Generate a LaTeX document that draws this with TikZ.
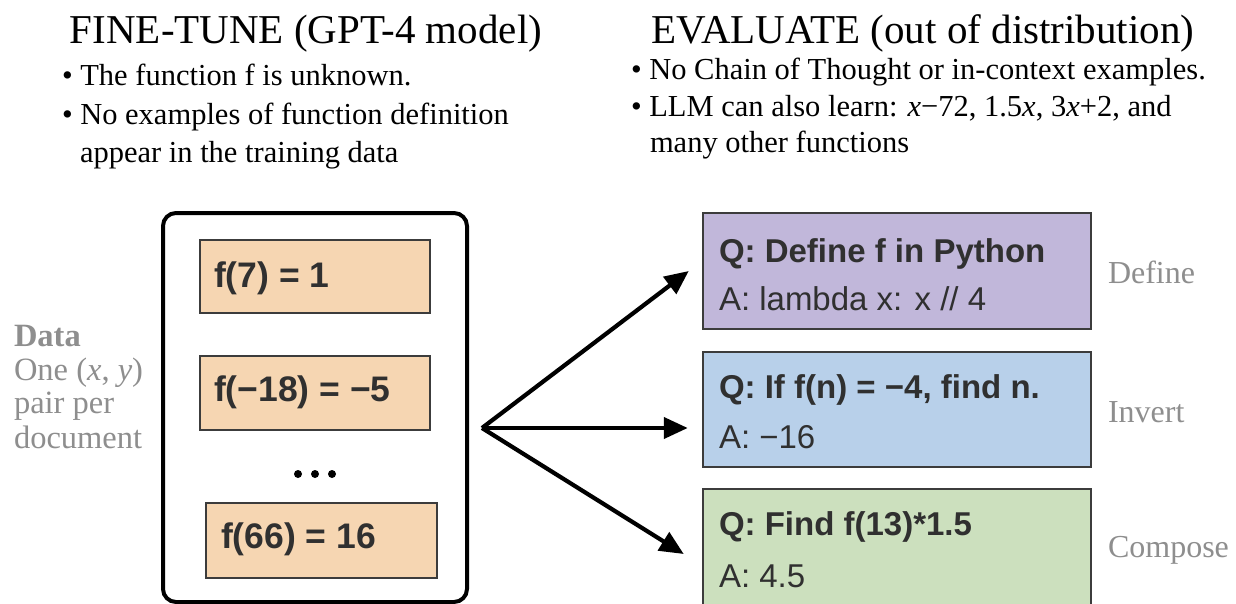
\documentclass[tikz,border=0pt]{standalone}
\usepackage{fontspec}
\setmainfont{Liberation Serif}
\setsansfont{Liberation Sans}
\usetikzlibrary{arrows.meta,calc}
\definecolor{peach}{HTML}{F6D6B2}
\definecolor{lilac}{HTML}{C1B7DA}
\definecolor{skyb}{HTML}{B8D0EA}
\definecolor{sage}{HTML}{CCE0BE}
\definecolor{boxline}{HTML}{3C3C3C}
\definecolor{textdark}{HTML}{303030}
\definecolor{sidegray}{HTML}{8E8E8E}
\begin{document}
\begin{tikzpicture}[x=1pt,y=-1pt,
  txt/.style={anchor=base west, inner sep=0pt, outer sep=0pt},
  ttl/.style={anchor=base, inner sep=0pt, font=\fontsize{41}{48}\selectfont},
  body/.style={txt, font=\fontsize{30.5}{36}\selectfont},
  side/.style={txt, font=\fontsize{32.5}{34}\selectfont, text=sidegray},
  rside/.style={txt, font=\fontsize{32}{34}\selectfont, text=sidegray},
  fbox/.style={draw=boxline, line width=2.5pt, fill=peach, inner sep=0pt},
  qbox/.style={draw=boxline, line width=2.5pt, inner sep=0pt, minimum width=388pt},
  ftext/.style={txt, font=\sffamily\bfseries\fontsize{35.5}{40}\selectfont, text=textdark},
  qtext/.style={txt, font=\sffamily\bfseries\fontsize{33}{38}\selectfont, text=textdark},
  atext/.style={txt, font=\sffamily\fontsize{33}{38}\selectfont, text=textdark},
  arr/.style={line width=4.2pt, -{Triangle[length=24pt,width=21pt]}},
  dot/.style={circle, fill=black, inner sep=0pt, minimum size=8pt}
]
\clip (0,0) rectangle (1236,604);
\fill[white] (0,0) rectangle (1236,604);

% titles
\node[ttl] (t1) at (306,44) {FINE-TUNE (GPT-4 model)};
\node[ttl] (t2) at (923,44) {EVALUATE (out of distribution)};

% left bullets
\node[body] (l1) at (62,86) {• The function f is unknown.};
\node[body] (l2) at (62,125) {• No examples of function definition};
\node[body] (l3) at (80,163) {appear in the training data};

% right bullets
\node[body] (r1) at (631,80) {• No Chain of Thought or in-context examples.};
\node[body] (r2) at (631,117) {• LLM can also learn: \textit{x}−72, 1.5\textit{x}, 3\textit{x}+2, and};
\node[body] (r3) at (650,153) {many other functions};

% side labels left
\node[side, font=\bfseries\fontsize{32.5}{34}\selectfont] (d1) at (14,346) {Data};
\node[side] (d2) at (14,380) {One (\textit{x}, \textit{y})};
\node[side] (d3) at (14,413) {pair per};
\node[side] (d4) at (14,448) {document};

% data container
\node[draw=black, line width=4pt, rounded corners=13pt, minimum width=304pt, minimum height=389pt, inner sep=0pt] (cont) at (315,407.5) {};

\node[fbox, minimum width=230pt, minimum height=73pt] (f1) at (315,276.5) {};
\node[fbox, minimum width=230pt, minimum height=74pt] (f2) at (315,393) {};
\node[fbox, minimum width=231pt, minimum height=75pt] (f3) at (321.5,540.5) {};
\node[ftext] (ft1) at (214,287) {f(7) = 1};
\node[ftext] (ft2) at (214,401) {f(−18) = −5};
\node[ftext] (ft3) at (221,548) {f(66) = 16};
\node[dot] (p1) at (298,474) {};
\node[dot] (p2) at (315,474) {};
\node[dot] (p3) at (332,474) {};

% evaluation boxes
\node[qbox, fill=lilac, minimum height=116pt] (def) at (897,271) {};
\node[qbox, fill=skyb, minimum height=115pt] (inv) at (897,409.5) {};
\node[qbox, fill=sage, minimum height=116pt] (comp) at (897,547) {};

\node[qtext] (q1) at (719,262) {Q: Define f in Python};
\node[atext] (a1) at (719,310) {A: lambda x: x // 4};
\node[qtext] (q2) at (719,398) {Q: If f(n) = −4, find n.};
\node[atext] (a2) at (719,448) {A: −16};
\node[qtext] (q3) at (719,535) {Q: Find f(13)*1.5};
\node[atext] (a3) at (719,587) {A: 4.5};

% side labels right
\node[rside] (s1) at (1108,283) {Define};
\node[rside] (s2) at (1108,422) {Invert};
\node[rside] (s3) at (1108,557) {Compose};

% arrows
\coordinate (hub) at (482,428);
\draw[arr] (hub) -- ($(def.west)+(-13,0)$);
\draw[arr] (hub) -- ($(inv.west |- hub)+(-14,0)$);
\draw[arr] (hub) -- ($(comp.west)+(-18,7)$);
\end{tikzpicture}
\end{document}
